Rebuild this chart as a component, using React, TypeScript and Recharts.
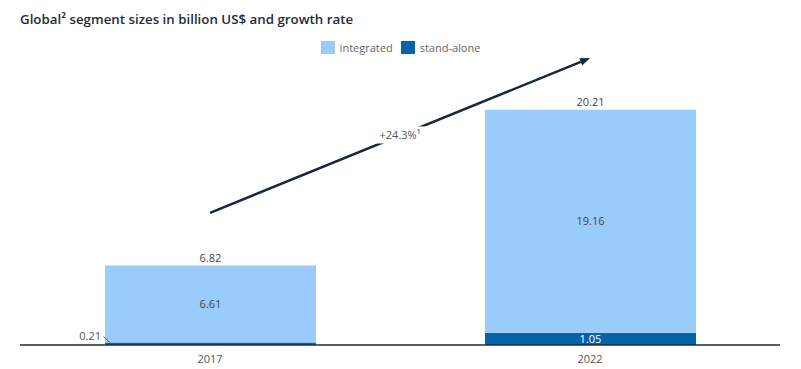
import { Bar, BarChart, LabelList, ReferenceLine, XAxis, YAxis } from 'recharts'

const years = ['2017', '2022']
const integrated = [6.61, 19.16]
const standAlone = [0.21, 1.05]
const totals = [6.82, 20.21]
const growth = '+24.3%¹'
const arrowFrom = 11.35
const arrowTo = 24.65

const LIGHT = '#99CCFA'
const DARK = '#0563AA'
const NAVY = '#13283F'
const FONT = '"Open Sans", "Noto Sans", sans-serif'

const data = years.map((y, i) => ({
  year: y,
  integrated: integrated[i],
  standAlone: standAlone[i],
  total: totals[i],
}))

function Arrow(props: any) {
  const { x1, y1, x2, y2 } = props
  const ang = Math.atan2(y2 - y1, x2 - x1)
  const len = 10
  const w = 4
  const bx = x2 - len * Math.cos(ang)
  const by = y2 - len * Math.sin(ang)
  const px = -Math.sin(ang) * w
  const py = Math.cos(ang) * w
  const mx = (x1 + x2) / 2
  const my = (y1 + y2) / 2
  return (
    <g>
      <line x1={x1} y1={y1} x2={bx} y2={by} stroke={NAVY} strokeWidth={2.5} />
      <polygon points={`${x2},${y2} ${bx + px},${by + py} ${bx - px},${by - py}`} fill={NAVY} />
      <rect x={mx - 26} y={my - 9} width={52} height={17} fill="#fff" />
      <text x={mx} y={my + 4} textAnchor="middle" fontSize={11} fill="#555" fontFamily={FONT}>
        {growth}
      </text>
    </g>
  )
}

function StandAloneLabel(props: any) {
  const { x, y, width, height, value } = props
  if (value < 0.5) {
    return (
      <g>
        <line x1={x - 1.5} y1={y - 6} x2={x + 6} y2={y + 1} stroke="#666" strokeWidth={1} />
        <text x={x - 4} y={y - 2.5} textAnchor="end" fontSize={11} fill="#555" fontFamily={FONT}>
          {value.toFixed(2)}
        </text>
      </g>
    )
  }
  return (
    <text x={x + width / 2} y={y + height / 2 + 4} textAnchor="middle" fontSize={11} fill="#fff" fontFamily={FONT}>
      {value.toFixed(2)}
    </text>
  )
}

export default function App() {
  return (
    <div style={{ position: 'absolute', left: 0, top: 0, width: 801, height: 369, background: '#fff', fontFamily: FONT }}>
      <div style={{ position: 'absolute', left: 20, top: 10, fontSize: 13.3, fontWeight: 600, color: '#1D2B3A' }}>
        Global² segment sizes in billion US$ and growth rate
      </div>
      <div style={{ position: 'absolute', left: 0, width: 801, top: 40, display: 'flex', justifyContent: 'center', gap: 8, fontSize: 11, color: '#666' }}>
        {[
          ['integrated', LIGHT],
          ['stand-alone', DARK],
        ].map(([n, c]) => (
          <span key={n} style={{ display: 'flex', alignItems: 'center', gap: 5 }}>
            <span style={{ display: 'inline-block', width: 14, height: 13, background: c }} />
            {n}
          </span>
        ))}
      </div>
      <BarChart
        width={801}
        height={369}
        data={data}
        margin={{ top: 54, right: 21, bottom: 0, left: 20 }}
        barSize={211}
      >
        <XAxis
          dataKey="year"
          height={24}
          tickLine={false}
          axisLine={{ stroke: '#1D2B3A', strokeWidth: 1.5 }}
          tick={{ fontSize: 11, fill: '#555', fontFamily: FONT }}
          tickMargin={4}
        />
        <YAxis hide domain={[0, 25]} />
        <Bar dataKey="standAlone" stackId="a" fill={DARK} isAnimationActive={false}>
          <LabelList dataKey="standAlone" content={<StandAloneLabel />} />
        </Bar>
        <Bar dataKey="integrated" stackId="a" fill={LIGHT} isAnimationActive={false}>
          <LabelList dataKey="integrated" position="center" fontSize={11} fill="#444" fontFamily={FONT} formatter={(v: any) => Number(v).toFixed(2)} />
          <LabelList dataKey="total" position="top" offset={4} fontSize={11} fill="#444" fontFamily={FONT} formatter={(v: any) => Number(v).toFixed(2)} />
        </Bar>
        <ReferenceLine
          segment={[
            { x: years[0], y: arrowFrom },
            { x: years[1], y: arrowTo },
          ]}
          shape={<Arrow />}
          ifOverflow="visible"
        />
      </BarChart>
    </div>
  )
}
